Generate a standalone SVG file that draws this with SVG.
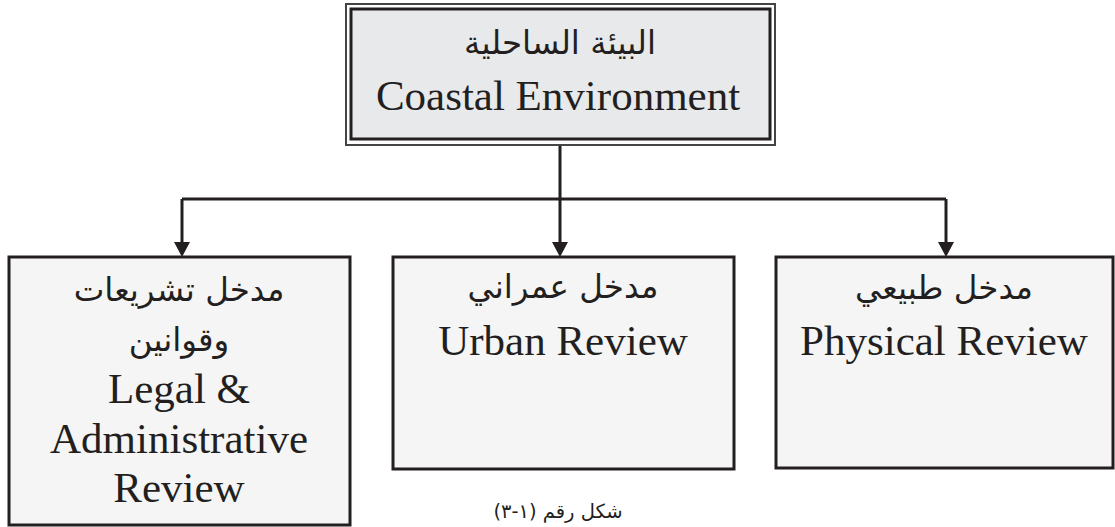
<svg xmlns="http://www.w3.org/2000/svg" width="1115" height="527" viewBox="0 0 1115 527">
<defs>
<style>
.box{fill:#f5f5f5;stroke:#231f20;stroke-width:3}
.en{font-family:"Liberation Serif","Times New Roman",serif;font-size:43px;fill:#231f20;text-anchor:middle}
.ar{font-family:"DejaVu Sans","Noto Sans",sans-serif;font-size:32.5px;fill:#231f20;text-anchor:middle;direction:rtl}
.cap{font-family:"DejaVu Sans","Noto Sans",sans-serif;font-size:19.5px;fill:#231f20;text-anchor:middle;direction:rtl}
.conn{fill:none;stroke:#231f20;stroke-width:3}
</style>
</defs>
<rect width="1115" height="527" fill="#ffffff"/>
<g id="connectors">
<line class="conn" x1="560" y1="145" x2="560" y2="243"/>
<polyline class="conn" points="182,199 946,199"/>
<line class="conn" x1="182" y1="199" x2="182" y2="243"/>
<line class="conn" x1="946" y1="199" x2="946" y2="243"/>
<polygon points="174,242 190,242 182,257" fill="#231f20"/>
<polygon points="552,242 568,242 560,257" fill="#231f20"/>
<polygon points="938,242 954,242 946,257" fill="#231f20"/>
</g>
<g id="node-coastal">
<rect x="346" y="4" width="429" height="141" fill="#ffffff" stroke="#444" stroke-width="2"/>
<rect x="351" y="9" width="419" height="130" fill="#e8e9eb" stroke="#231f20" stroke-width="3"/>
<text class="ar" x="560" y="54">البيئة الساحلية</text>
<text class="en" x="558" y="110">Coastal Environment</text>
</g>
<g id="node-legal">
<rect class="box" x="9" y="257" width="341" height="268"/>
<text class="ar" x="179" y="301">مدخل تشريعات</text>
<text class="ar" x="179" y="351">وقوانين</text>
<text class="en" x="179" y="403">Legal &amp;</text>
<text class="en" x="179" y="453">Administrative</text>
<text class="en" x="179" y="502">Review</text>
</g>
<g id="node-urban">
<rect class="box" x="393" y="257" width="341" height="212"/>
<text class="ar" x="563" y="298">مدخل عمراني</text>
<text class="en" x="563" y="355">Urban Review</text>
</g>
<g id="node-physical">
<rect class="box" x="776" y="257" width="337" height="211"/>
<text class="ar" x="944" y="299">مدخل طبيعي</text>
<text class="en" x="944" y="355">Physical Review</text>
</g>
<g id="caption">
<text class="cap" x="558" y="518">شكل رقم (١-٣)</text>
</g>
</svg>
